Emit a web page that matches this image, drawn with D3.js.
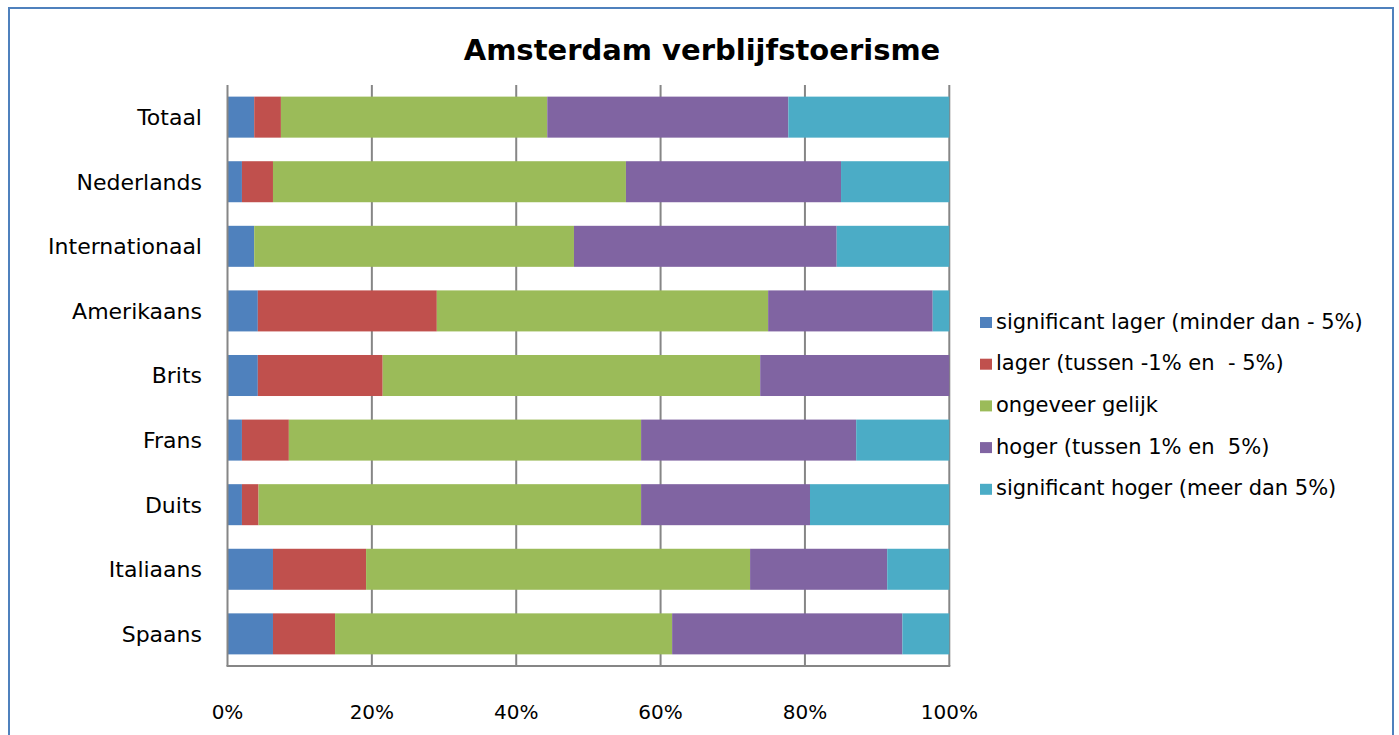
<!DOCTYPE html>
<html><head><meta charset="utf-8">
<script src="https://cdn.jsdelivr.net/npm/d3@7"></script>
<style>body{margin:0;background:#fff;}svg{display:block;}.lgt{white-space:pre;}</style>
</head><body>
<script>
const categories = ["Totaal","Nederlands","Internationaal","Amerikaans","Brits","Frans","Duits","Italiaans","Spaans"];
const seriesNames = ["significant lager (minder dan - 5%)","lager (tussen -1% en  - 5%)","ongeveer gelijk","hoger (tussen 1% en  5%)","significant hoger (meer dan 5%)"];
const sigLager   = [3.7, 2.0, 3.7, 4.2, 4.2, 2.0, 2.0, 6.3, 6.3];
const lager      = [3.7, 4.3, 0.0, 24.8, 17.3, 6.5, 2.3, 12.9, 8.6];
const gelijk     = [36.9, 48.9, 44.3, 45.9, 52.3, 48.8, 53.0, 53.2, 46.7];
const hoger      = [33.4, 29.8, 36.4, 22.8, 26.2, 29.8, 23.4, 19.0, 31.9];
const sigHoger   = [22.3, 15.0, 15.6, 2.3, 0.0, 12.9, 19.3, 8.6, 6.5];
const tickLabels = ["0%","20%","40%","60%","80%","100%"];
const colors = ["#4F81BD","#C0504D","#9BBB59","#8064A2","#4BACC6"];

const W = 1399, H = 735;
const svg = d3.select("body").append("svg").attr("width", W).attr("height", H);
const font = "'DejaVu Sans', Verdana, sans-serif";

svg.append("rect").attr("x",9).attr("y",8).attr("width",1384).attr("height",760)
  .attr("fill","#fff").attr("stroke","#4F81BD").attr("stroke-width",2);

svg.append("text").attr("x",702).attr("y",60).attr("text-anchor","middle")
  .attr("font-family",font).attr("font-weight","bold").attr("font-size",29)
  .text("Amsterdam verblijfstoerisme");

const x0 = 227.5, x1 = 949.3, yTop = 85, yBot = 666;
const x = d3.scaleLinear().domain([0,100]).range([x0,x1]);
const y = d3.scaleBand().domain(categories).range([yTop,yBot]).paddingInner(0.365).paddingOuter(0.18);

const rows = categories.map((c,i)=>({cat:c, v:[sigLager[i],lager[i],gelijk[i],hoger[i],sigHoger[i]]}));
const stack = d3.stack().keys([0,1,2,3,4]).value((d,k)=>d.v[k]);
const layers = stack(rows);

// gridlines
svg.append("g").selectAll("line").data([20,40,60,80,100]).join("line")
  .attr("x1",d=>x(d)).attr("x2",d=>x(d)).attr("y1",yTop).attr("y2",yBot)
  .attr("stroke","#868686").attr("stroke-width",2);

svg.append("g").selectAll("g").data(layers).join("g").attr("fill",(d,i)=>colors[i])
  .selectAll("rect").data(d=>d).join("rect")
  .attr("x",d=>x(d[0])).attr("width",d=>Math.max(0,x(d[1])-x(d[0])))
  .attr("y",d=>y(d.data.cat)).attr("height",y.bandwidth());

// axes lines
svg.append("line").attr("x1",x0).attr("x2",x0).attr("y1",yTop).attr("y2",yBot).attr("stroke","#868686").attr("stroke-width",2);
svg.append("line").attr("x1",x0-1).attr("x2",x1+1).attr("y1",yBot).attr("y2",yBot).attr("stroke","#868686").attr("stroke-width",2);

// category labels
svg.append("g").selectAll("text").data(categories).join("text")
  .attr("x",202).attr("y",d=>y(d)+y.bandwidth()/2).attr("dy","0.36em")
  .attr("text-anchor","end").attr("font-family",font).attr("font-size",22).attr("fill","#000")
  .text(d=>d);

// x tick labels
svg.append("g").selectAll("text").data(tickLabels).join("text")
  .attr("x",(d,i)=>x(i*20)).attr("y",719).attr("text-anchor","middle")
  .attr("font-family",font).attr("font-size",20).attr("fill","#000")
  .text(d=>d);

// legend
const lg = svg.append("g").attr("transform","translate(980,321)");
const li = lg.selectAll("g").data(seriesNames).join("g").attr("transform",(d,i)=>`translate(0,${i*41.7})`);
li.append("rect").attr("x",0).attr("y",-4).attr("width",12).attr("height",11).attr("fill",(d,i)=>colors[i]);
li.append("text").attr("class","lgt").attr("x",16).attr("y",0).attr("dy","0.36em").attr("font-family",font).attr("font-size",21).attr("fill","#000").text(d=>d);
</script>
</body></html>
